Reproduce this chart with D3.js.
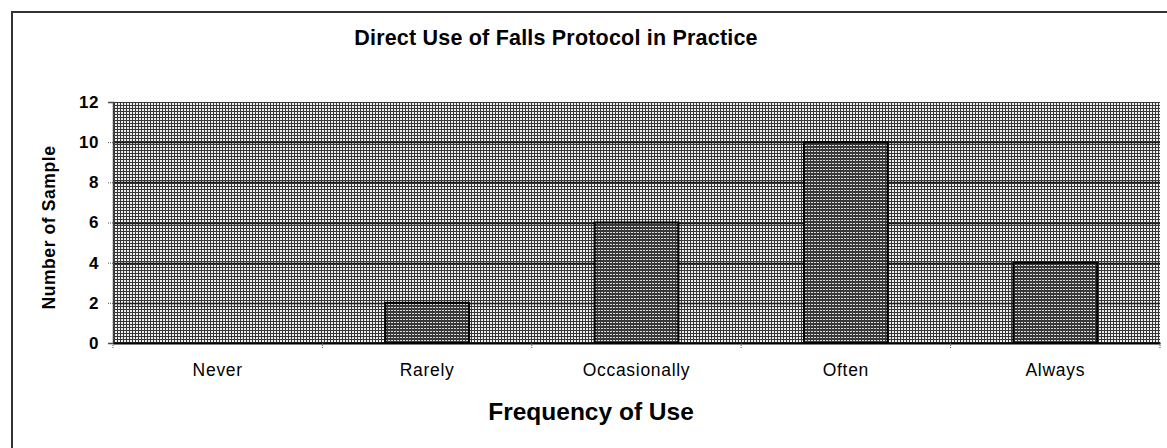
<!DOCTYPE html>
<html>
<head>
<meta charset="utf-8">
<script src="https://cdn.jsdelivr.net/npm/d3@7"></script>
<style>
  html, body { margin: 0; padding: 0; background: #fff; }
  svg { display: block; font-family: "Liberation Sans", Arial, sans-serif; }
</style>
</head>
<body>
<div id="app"></div>
<script>
const categories = ["Never", "Rarely", "Occasionally", "Often", "Always"];
const counts = [0, 2, 6, 10, 4];
const yTicks = [0, 2, 4, 6, 8, 10, 12];

const width = 1167;
const height = 448;
const plot = { left: 113, right: 1160, top: 102, bottom: 343 };

const svg = d3.select("#app").append("svg")
  .attr("width", width)
  .attr("height", height);

// halftone-ish fills, like the scanned original
const defs = svg.append("defs");
const bgPat = defs.append("pattern")
  .attr("id", "bg-pat")
  .attr("patternUnits", "userSpaceOnUse")
  .attr("width", 3).attr("height", 3);
bgPat.append("rect").attr("width", 3).attr("height", 3).attr("fill", "#363636");
bgPat.append("rect").attr("x", 1).attr("y", 1).attr("width", 2).attr("height", 2).attr("fill", "#eeeeee");

const barPat = defs.append("pattern")
  .attr("id", "bar-pat")
  .attr("patternUnits", "userSpaceOnUse")
  .attr("width", 3).attr("height", 3);
barPat.append("rect").attr("width", 3).attr("height", 3).attr("fill", "#383838");
barPat.append("rect").attr("x", 1).attr("y", 1).attr("width", 2).attr("height", 1).attr("fill", "#dcdcdc");

const x = d3.scaleBand()
  .domain(categories)
  .range([plot.left, plot.right])
  .paddingInner(0.6)
  .paddingOuter(0.3);

const y = d3.scaleLinear()
  .domain([0, 12])
  .range([plot.bottom, plot.top]);

// outer frame (cropped at the right / bottom like the scan)
svg.append("path")
  .attr("d", `M12,${height} L12,12 L${width},12`)
  .attr("fill", "none")
  .attr("stroke", "#333")
  .attr("stroke-width", 2);

// plot area background
svg.append("rect")
  .attr("x", plot.left)
  .attr("y", plot.top)
  .attr("width", plot.right - plot.left)
  .attr("height", plot.bottom - plot.top)
  .attr("fill", "url(#bg-pat)");

// gridlines
svg.append("g")
  .selectAll("line")
  .data(yTicks.filter(d => d > 0 && d < 12))
  .enter()
  .append("line")
  .attr("x1", plot.left)
  .attr("x2", plot.right)
  .attr("y1", d => Math.round(y(d)) + 0.5)
  .attr("y2", d => Math.round(y(d)) + 0.5)
  .attr("stroke", "#1e1e1e")
  .attr("stroke-width", 1.5);

// bars
svg.append("g")
  .selectAll("rect")
  .data(categories.map((c, i) => ({ cat: c, value: counts[i] })).filter(d => d.value > 0))
  .enter()
  .append("rect")
  .attr("x", d => x(d.cat))
  .attr("y", d => y(d.value))
  .attr("width", x.bandwidth())
  .attr("height", d => y(0) - y(d.value))
  .attr("fill", "url(#bar-pat)")
  .attr("stroke", "#000")
  .attr("stroke-width", 2);

// y axis
const yAxis = d3.axisLeft(y)
  .tickValues(yTicks)
  .tickSize(5)
  .tickPadding(9);

const yg = svg.append("g")
  .attr("transform", `translate(${plot.left},0)`)
  .call(yAxis);
yg.select(".domain").attr("stroke", "#444").attr("stroke-width", 1.5);
yg.selectAll(".tick line").attr("stroke", "#555").attr("stroke-dasharray", "1,1");
yg.selectAll(".tick text")
  .attr("font-size", 17)
  .attr("font-weight", "bold")
  .attr("letter-spacing", "0.5px")
  .attr("fill", "#000")
  .attr("font-family", "Liberation Sans, Arial, sans-serif");

// x axis
const xAxis = d3.axisBottom(x)
  .tickSize(0)
  .tickPadding(21);

const xg = svg.append("g")
  .attr("transform", `translate(0,${plot.bottom})`)
  .call(xAxis);
xg.select(".domain").attr("stroke", "#000").attr("stroke-width", 2);
xg.selectAll(".tick text")
  .attr("font-size", 17.5)
  .attr("letter-spacing", "0.7px")
  .attr("fill", "#000")
  .attr("font-family", "Liberation Sans, Arial, sans-serif");

// small tick marks between categories
const bounds = d3.range(categories.length + 1).map(i => plot.left + i * (plot.right - plot.left) / categories.length);
svg.append("g")
  .selectAll("line")
  .data(bounds)
  .enter()
  .append("line")
  .attr("x1", d => d)
  .attr("x2", d => d)
  .attr("y1", plot.bottom)
  .attr("y2", plot.bottom + 5)
  .attr("stroke", "#555")
  .attr("stroke-dasharray", "1,1");

// titles
svg.append("text")
  .attr("x", 556)
  .attr("y", 45)
  .attr("text-anchor", "middle")
  .attr("font-size", 21.5)
  .attr("font-weight", "bold")
  .attr("letter-spacing", "0.2px")
  .text("Direct Use of Falls Protocol in Practice");

svg.append("text")
  .attr("x", 591)
  .attr("y", 420)
  .attr("text-anchor", "middle")
  .attr("font-size", 24.5)
  .attr("font-weight", "bold")
  .text("Frequency of Use");

svg.append("text")
  .attr("transform", `translate(55,${(plot.top + plot.bottom) / 2 + 5}) rotate(-90)`)
  .attr("text-anchor", "middle")
  .attr("font-size", 17.5)
  .attr("font-weight", "bold")
  .attr("letter-spacing", "0.6px")
  .text("Number of Sample");
</script>
</body>
</html>
